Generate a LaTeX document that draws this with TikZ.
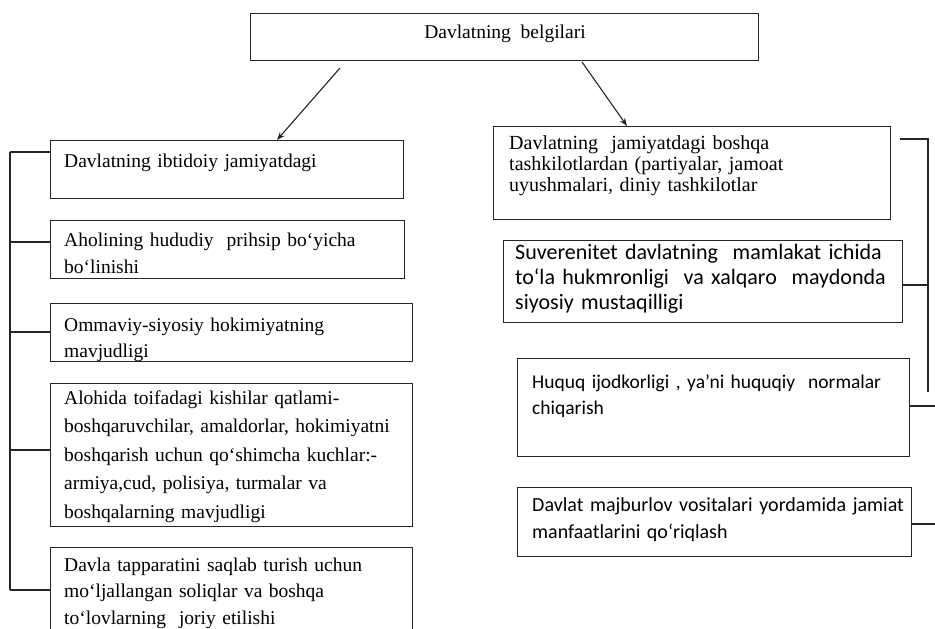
\documentclass[tikz,border=0pt]{standalone}
\usepackage{fontspec}
\setmainfont{Liberation Serif}
\newfontfamily\sansf{Carlito}
\usetikzlibrary{arrows.meta,calc}
\tikzset{
  box/.style={draw=black!85, line width=1.1pt, inner sep=0pt, anchor=north west, rectangle},
  txt/.style={anchor=base west, inner sep=0pt, align=left, text width=#1},
  lserif/.style={font=\fontsize{19.5}{28.5}\selectfont},
  rserif/.style={font=\fontsize{20}{21}\selectfont},
  rsans/.style={font=\sansf\fontsize{22}{25}\selectfont},
  conn/.style={draw=black!85, line width=1.1pt},
  arr/.style={draw=black!85, line width=1.1pt, -{Stealth[length=8pt,width=6pt]}}
}
\begin{document}
\begin{tikzpicture}[x=1pt,y=-1pt]
\useasboundingbox (0,0) rectangle (935,629);
\fill[white] (0,0) rectangle (935,629);
% top
\node[box, minimum width=508, minimum height=47] (top) at (250,13) {};
\node[anchor=base, inner sep=0pt, font=\fontsize{19.5}{24}\selectfont] (topt) at (505,38) {Davlatning\ \ belgilari};
% left boxes
\node[box, minimum width=353, minimum height=58] (L1) at (50,140) {};
\node[box, minimum width=354, minimum height=58] (L2) at (50,220) {};
\node[box, minimum width=362, minimum height=58] (L3) at (50,303) {};
\node[box, minimum width=362, minimum height=143] (L4) at (50,383) {};
\node[box, minimum width=362, minimum height=100] (L5) at (50,547) {};
\node[txt=420pt, lserif] (L1t) at (64,167) {Davlatning ibtidoiy jamiyatdagi};
\node[txt=420pt, lserif, font=\fontsize{19.5}{27}\selectfont] (L2t) at (64,246) {Aholining hududiy\ \ prihsip bo‘yicha\\ bo‘linishi};
\node[txt=420pt, lserif, font=\fontsize{19.5}{26}\selectfont] (L3t) at (64,331) {Ommaviy-siyosiy hokimiyatning\\ mavjudligi};
\node[txt=420pt, lserif] (L4t) at (64,404) {Alohida toifadagi kishilar qatlami-\\ boshqaruvchilar, amaldorlar, hokimiyatni\\ boshqarish uchun qo‘shimcha kuchlar:-\\ armiya,cud, polisiya, turmalar va\\ boshqalarning mavjudligi};
\node[txt=420pt, lserif, font=\fontsize{19.5}{26.5}\selectfont] (L5t) at (64,571) {Davla tapparatini saqlab turish uchun\\ mo‘ljallangan soliqlar va boshqa\\ to‘lovlarning\ \ joriy etilishi};
% right boxes
\node[box, minimum width=397, minimum height=93] (R1) at (493,126) {};
\node[box, minimum width=399, minimum height=82] (R2) at (503,240) {};
\node[box, minimum width=392, minimum height=98] (R3) at (517,358) {};
\node[box, minimum width=394, minimum height=69] (R4) at (517,487) {};
\node[txt=420pt, rserif] (R1t) at (509,149) {Davlatning\ \ jamiyatdagi boshqa\\ tashkilotlardan (partiyalar, jamoat\\ uyushmalari, diniy tashkilotlar};
\node[txt=420pt, rsans] (R2t) at (515,259) {Suverenitet davlatning\ \ mamlakat ichida\\ to‘la hukmronligi\ \ va xalqaro\ \ maydonda\\ siyosiy mustaqilligi};
\node[txt=420pt, rsans, font=\sansf\fontsize{19.5}{26}\selectfont] (R3t) at (532,388) {Huquq ijodkorligi , ya’ni huquqiy\ \ normalar\\ chiqarish};
\node[txt=420pt, rsans, font=\sansf\fontsize{20}{27}\selectfont] (R4t) at (532,511) {Davlat majburlov vositalari yordamida jamiat\\ manfaatlarini qo‘riqlash};
% arrows
\coordinate (a1) at (340,68);
\coordinate (a2) at (582,62);
\draw[arr] (a1) -- ($(L1.north west)+(227,0)$);
\draw[arr] (a2) -- ($(R1.north west)+(134,0)$);
% left bracket
\coordinate (lb1) at (10,152);
\coordinate (lb2) at (10,242);
\coordinate (lb3) at (10,332);
\coordinate (lb4) at (10,450);
\coordinate (lb5) at (10,590);
\draw[conn] (lb1) -- (lb5);
\draw[conn] (lb1) -- (lb1 -| L1.west);
\draw[conn] (lb2) -- (lb2 -| L2.west);
\draw[conn] (lb3) -- (lb3 -| L3.west);
\draw[conn] (lb4) -- (lb4 -| L4.west);
\draw[conn] (lb5) -- (lb5 -| L5.west);
% right bracket
\coordinate (rb0) at (900,139);
\coordinate (rb1) at (928,139);
\coordinate (rb2) at (928,285);
\coordinate (rb3) at (928,392);
\coordinate (rb4) at (935,406);
\coordinate (rb5) at (935,524);
\draw[conn] (rb0) -- (rb1) -- (rb3);
\draw[conn] (rb2 -| R2.east) -- (rb2);
\draw[conn] (rb4 -| R3.east) -- (rb4);
\draw[conn] (rb5 -| R4.east) -- (rb5);
\end{tikzpicture}
\end{document}
